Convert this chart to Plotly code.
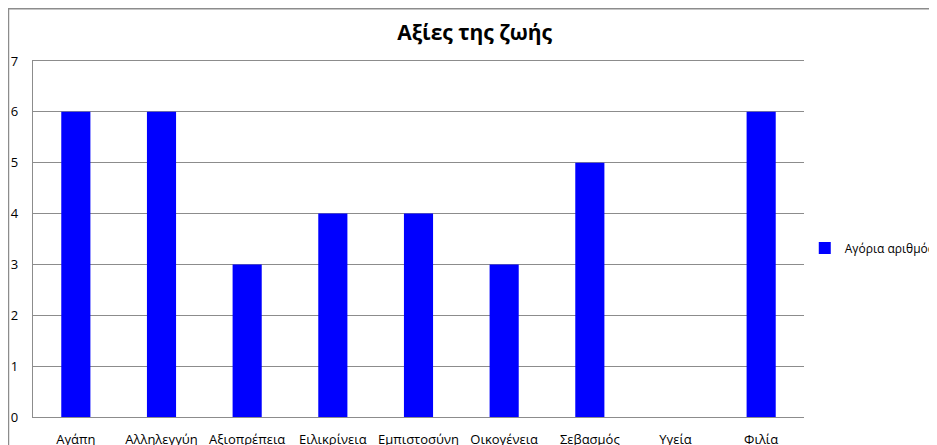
import plotly.graph_objects as go

categories = ["Αγάπη", "Αλληλεγγύη", "Αξιοπρέπεια", "Ειλικρίνεια", "Εμπιστοσύνη",
              "Οικογένεια", "Σεβασμός", "Υγεία", "Φιλία"]
boys = [6, 6, 3, 4, 4, 3, 5, 0, 6]
y_ticks = [0, 1, 2, 3, 4, 5, 6, 7]

font = "Open Sans, Noto Sans, sans-serif"
grid = "#8c8c8c"

fig = go.Figure()
fig.add_trace(go.Bar(
    x=categories,
    y=boys,
    name="Αγόρια αριθμός",
    marker=dict(color="#0000ff", line=dict(width=0)),
))

# the page puts the figure 8px in from the top-left corner
fig.update_layout(
    width=937,
    height=445,
    margin=dict(l=25, r=141, t=53, b=36, autoexpand=False),
    paper_bgcolor="white",
    plot_bgcolor="white",
    font=dict(family=font, size=12, color="#000000"),
    title=dict(text="<b>Αξίες της ζωής</b>", xref="container", x=0.498,
               xanchor="center", yref="container", y=0.944, yanchor="middle",
               font=dict(size=21, family=font)),
    bargap=0.66,
    showlegend=True,
    legend=dict(x=1.001, xanchor="left", y=0.475, yanchor="middle",
                font=dict(size=12), itemwidth=30),
    shapes=[dict(type="rect", xref="paper", yref="paper",
                 x0=-0.0318, x1=1.3, y0=-0.2, y1=1.147,
                 line=dict(color=grid, width=1.5), layer="below")],
)

fig.update_xaxes(
    showgrid=False,
    showline=True, linecolor=grid, linewidth=1.2, mirror=True,
    ticks="", ticklabelstandoff=10,
    tickfont=dict(size=13),
)
fig.update_yaxes(
    range=[0, 7], tickvals=y_ticks,
    showgrid=True, gridcolor=grid, gridwidth=1,
    showline=True, linecolor=grid, linewidth=1.2,
    zeroline=False, ticks="", ticklabelstandoff=11,
    tickfont=dict(size=13),
)

fig.write_html("out.html")
